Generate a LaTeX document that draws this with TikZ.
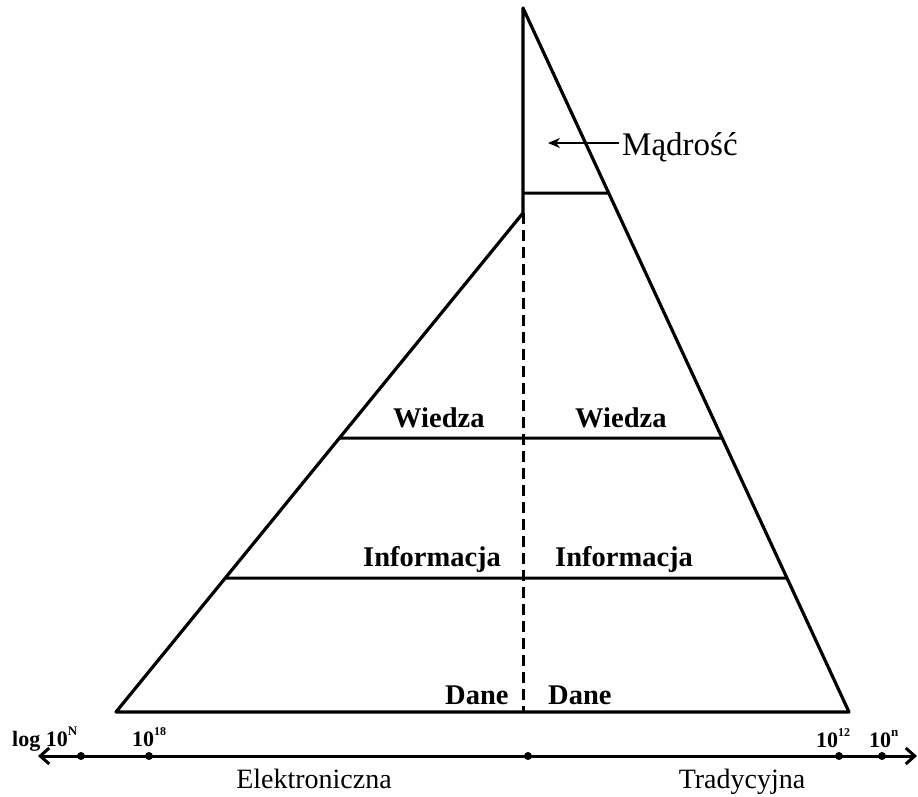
\documentclass[tikz,border=0pt]{standalone}
\usepackage{fontspec}
\setmainfont{Liberation Serif}
\usetikzlibrary{calc,arrows.meta}
\begin{document}
\begin{tikzpicture}[x=1pt,y=-1pt,
  edge/.style={line width=3.2pt, line join=round},
  lvl/.style={line width=3pt},
  lab/.style={font=\fontsize{28.5}{30}\selectfont\bfseries, anchor=base west, inner sep=0pt},
  capt/.style={font=\fontsize{28}{30}\selectfont, anchor=base, inner sep=0pt},
  tick/.style={font=\fontsize{22}{24}\selectfont\bfseries, anchor=base west, inner sep=0pt},
  sup/.style={font=\fontsize{12}{12}\selectfont\bfseries},
  dot/.style={circle, fill=black, inner sep=0pt, minimum size=8pt}]
\useasboundingbox (0,0) rectangle (918,796);
% pyramid
\coordinate (T) at (523,8);
\coordinate (K) at (523,213);
\coordinate (BL) at (116,712);
\coordinate (BR) at (849,712);
\coordinate (BM) at (523,712);
\coordinate (m0) at (523,193);
\coordinate (m1) at ($(T)!0.2628!(BR)$);
\coordinate (wl) at ($(K)!0.4509!(BL)$);
\coordinate (wr) at ($(T)!0.6108!(BR)$);
\coordinate (il) at ($(K)!0.7315!(BL)$);
\coordinate (ir) at ($(T)!0.8097!(BR)$);
\draw[edge] (T) -- (K) -- (BL) -- (BR) -- cycle;
\draw[lvl] (m0) -- (m1);
\draw[lvl] (wl) -- (wr);
\draw[lvl] (il) -- (ir);
\draw[line width=3pt, dash pattern=on 11pt off 6pt] (K) -- (BM);
% Madrosc
\node[font=\fontsize{33}{36}\selectfont, anchor=base west, inner sep=0pt] (mad) at (622,155) {Mądrość};
\coordinate (ma) at (619,143);
\coordinate (mb) at (548,143);
\draw[line width=1.8pt, -{Stealth[length=12pt,width=10pt]}] (ma) -- (mb);
% level labels
\node[lab] (wL) at (393,427) {Wiedza};
\node[lab] (wR) at (575,427) {Wiedza};
\node[lab] (iL) at (363,566) {Informacja};
\node[lab] (iR) at (555,566) {Informacja};
\node[lab] (dL) at (445,704) {Dane};
\node[lab] (dR) at (548,704) {Dane};
% axis
\coordinate (AL) at (38,756);
\coordinate (AR) at (917,756);
\draw[line width=3pt, {Straight Barb[length=9pt,width=16pt]}-{Straight Barb[length=9pt,width=16pt]}] (AL) -- (AR);
\node[dot] (d1) at (81,756) {};
\node[dot] (d2) at (149,756) {};
\node[dot] (d3) at (528,756) {};
\node[dot] (d4) at (839,756) {};
\node[dot] (d5) at (882,756) {};
\node[tick] (tN) at (12,746) {log 10\raisebox{0.5em}{\fontsize{13}{13}\selectfont N}};
\node[tick] (t18) at (132,746) {10\raisebox{0.5em}{\fontsize{12}{12}\selectfont 18}};
\node[tick] (t12) at (816,747) {10\raisebox{0.5em}{\fontsize{12}{12}\selectfont 12}};
\node[tick] (tn) at (869,747) {10\raisebox{0.5em}{\fontsize{13}{13}\selectfont n}};
\node[capt] (el) at (314,788) {Elektroniczna};
\node[capt] (tr) at (742,788) {Tradycyjna};
\end{tikzpicture}
\end{document}
